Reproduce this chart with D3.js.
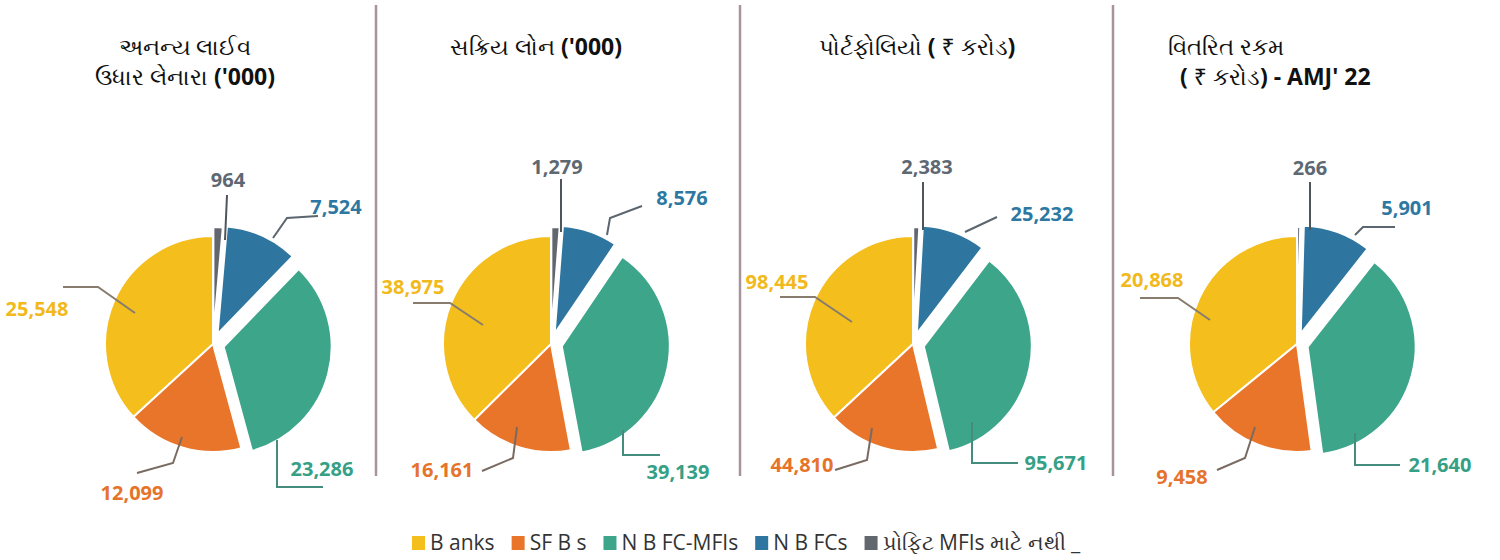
<!DOCTYPE html>
<html>
<head>
<meta charset="utf-8">
<script src="https://cdn.jsdelivr.net/npm/d3@7"></script>
<style>
  body { margin: 0; background: #fff; }
  svg text { font-family: "Open Sans", "Noto Sans", sans-serif; }
</style>
</head>
<body>
<div class="holder"></div>
<script>
// categories (legend text kept as printed)
const categories = ["B anks", "SF B s", "N B FC-MFIs", "N B FCs", "પ્રોફિટ MFIs માટે નથી _"];
const colors = ["#F4BE1C", "#E8752A", "#3DA58A", "#2E76A0", "#62666E"];
const labelColors = ["#F1B91B", "#E6732A", "#35A086", "#2D78A2", "#5E6873"];
const leaderColors = ["#877c6e", "#7a6b62", "#468c7e", "#5b6670", "#50555c"];

// series values, one per chart
const borrowers = [25548, 12099, 23286, 7524, 964];
const activeLoans = [38975, 16161, 39139, 8576, 1279];
const portfolio = [98445, 44810, 95671, 25232, 2383];
const disbursed = [20868, 9458, 21640, 5901, 266];

// titles, [text, bold]
const titles = [
    [[["અનન્ય લાઈવ", false]], [["ઉધાર લેનારા ", false], ["('000)", true]]],
    [[["સક્રિય લોન ", false], ["('000)", true]]],
    [[["પોર્ટફોલિયો ", false], ["( ", true], ["₹ કરોડ", false], [")", true]]],
    [[["વિતરિત રકમ", false]], [["( ", true], ["₹ કરોડ", false], [") - AMJ' 22", true]]]
];

const series = [borrowers, activeLoans, portfolio, disbursed];

const w = 1500;
const h = 560;
const cy = 344;
const r = 108;
const centers = [213, 551, 913, 1297];
const dividers = [376, 740, 1113];
const explode = [0, 0, 11, 11, 9];

// leader paths per chart and category (relative to pie centre)
const leaders = [
    [[[-78, -31], [-115, -57], [-150, -57]], [[-31, 93], [-40, 119], [-76, 129]],
     [[64, 96], [64, 143], [110, 143]], [[60, -106], [74, -126], [105, -128]], [[12, -104], [14, -149]]],
    [[[-68, -19], [-101, -41], [-138, -41]], [[-34, 83], [-38, 114], [-69, 127]],
     [[72, 86], [72, 111], [109, 111]], [[56, -109], [59, -126], [91, -138]], [[10, -112], [10, -165]]],
    [[[-61, -22], [-98, -47], [-133, -47]], [[-41, 84], [-46, 116], [-78, 126]],
     [[59, 78], [59, 119], [105, 119]], [[52, -112], [84, -127]], [[10, -114], [10, -162]]],
    [[[-87, -24], [-119, -46], [-157, -46]], [[-42, 83], [-52, 114], [-80, 126]],
     [[58, 89], [58, 121], [103, 121]], [[58, -109], [66, -117], [98, -117]], [[13, -114], [13, -162]]]
];
// label centres per chart
const labelPos = [
    [[-176, -35], [-81, 149], [109, 125], [123, -137], [15, -164]],
    [[-138, -57], [-109, 126], [127, 128], [131, -146], [6, -177]],
    [[-136, -62], [-111, 121], [143, 119], [129, -130], [14, -177]],
    [[-145, -64], [-115, 133], [143, 121], [110, -136], [13, -176]]
];

const svg = d3.select(".holder")
    .append("svg")
    .attr("width", w)
    .attr("height", h);

// dividers
svg.selectAll(".divider")
    .data(dividers)
    .enter()
    .append("line")
    .attr("class", "divider")
    .attr("x1", d => d).attr("x2", d => d)
    .attr("y1", 5).attr("y2", 476)
    .attr("stroke", "#a8939d")
    .attr("stroke-width", 2.5);

const pie = d3.pie()
    .sort(null)
    .startAngle(0)
    .endAngle(-2 * Math.PI);

const arc = d3.arc().innerRadius(0).outerRadius(r);
const fmt = d3.format(",");

// title positions
const titleLayout = [
    { x: 185, y: [55, 85], anchor: "middle" },
    { x: 536, y: [55], anchor: "middle" },
    { x: 917, y: [55], anchor: "middle" },
    { x: 1168, y: [55, 85], anchor: "start", indent: [0, 12] }
];

series.forEach((vals, ci) => {
    const g = svg.append("g")
        .attr("transform", `translate(${centers[ci]}, ${cy})`);

    const arcs = pie(vals);

    g.selectAll(".slice")
        .data(arcs)
        .enter()
        .append("path")
        .attr("class", "slice")
        .attr("transform", (d, i) => {
            const mid = (d.startAngle + d.endAngle) / 2;
            return `translate(${Math.sin(mid) * explode[i]}, ${-Math.cos(mid) * explode[i]})`;
        })
        .attr("d", arc)
        .attr("fill", (d, i) => colors[i])
        .attr("stroke", "#fff")
        .attr("stroke-width", 2);

    g.selectAll(".leader")
        .data(arcs)
        .enter()
        .append("polyline")
        .attr("class", "leader")
        .attr("points", (d, i) => leaders[ci][i].map(p => p.join(",")).join(" "))
        .attr("fill", "none")
        .attr("stroke", (d, i) => leaderColors[i])
        .attr("stroke-width", 2);

    g.selectAll(".lbl")
        .data(arcs)
        .enter()
        .append("text")
        .attr("class", "lbl")
        .attr("x", (d, i) => labelPos[ci][i][0])
        .attr("y", (d, i) => labelPos[ci][i][1])
        .attr("dy", "0.35em")
        .attr("text-anchor", "middle")
        .style("font-size", "20px")
        .style("font-weight", "700")
        .attr("fill", (d, i) => labelColors[i])
        .text(d => fmt(d.data));

    // title
    const tl = titleLayout[ci];
    titles[ci].forEach((line, li) => {
        const t = svg.append("text")
            .attr("x", tl.x + (tl.indent ? tl.indent[li] : 0))
            .attr("y", tl.y[li])
            .attr("text-anchor", tl.anchor)
            .style("font-size", "23px")
            .attr("fill", "#111");
        line.forEach(seg => {
            t.append("tspan")
                .style("font-weight", seg[1] ? "700" : "400")
                .text(seg[0]);
        });
    });
});

// legend
const legend = svg.append("g").attr("transform", "translate(412, 543)");
let lx = 0;
categories.forEach((c, i) => {
    legend.append("rect")
        .attr("x", lx)
        .attr("y", -7)
        .attr("width", 13)
        .attr("height", 14)
        .attr("fill", colors[i]);
    const t = legend.append("text")
        .attr("x", lx + 18)
        .attr("y", 0)
        .attr("dy", "0.35em")
        .style("font-size", "21px")
        .attr("fill", "#333")
        .text(c);
    lx += 18 + t.node().getComputedTextLength() + 17;
});
</script>
</body>
</html>
